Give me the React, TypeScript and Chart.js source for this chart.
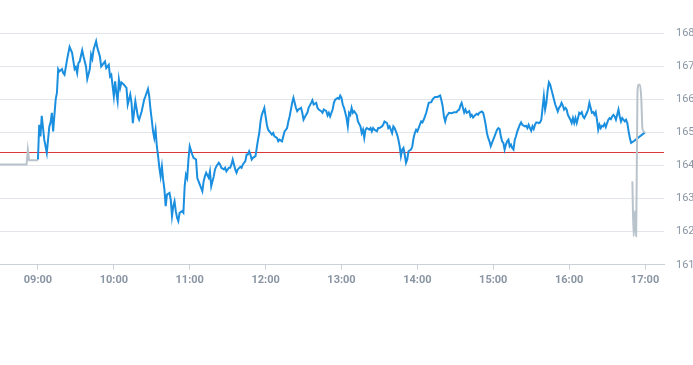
import React, { useEffect, useRef } from "react";
import { Chart, registerables } from "chart.js";

Chart.register(...registerables);

// time axis: minutes after midnight
const axisMin = 510; // 08:30
const axisMax = 1035; // 17:15
const tickLabels = ["09:00", "10:00", "11:00", "12:00", "13:00", "14:00", "15:00", "16:00", "17:00"];
const priceTicks = [161, 162, 163, 164, 165, 166, 167, 168];
const refPrice = 164.42;

const preTimes = [510, 531, 532, 533, 540];
const preValues = [164.03, 164.03, 164.48, 164.16, 164.16];

const sessionTimes = [
  540, 541, 542, 543, 545, 547, 549, 550, 551, 552, 554, 555, 556, 557, 559, 560, 561, 563, 565, 567,
  569, 570, 571, 572, 573, 575, 576, 578, 579, 581, 582, 583, 584, 586, 587, 589, 590, 592, 593, 594,
  596, 597, 598, 600, 601, 602, 603, 604, 605, 606, 608, 610, 611, 613, 614, 615, 617, 619, 620, 622,
  624, 625, 627, 628, 629, 630, 631, 632, 633, 634, 635, 636, 637, 638, 639, 640, 641, 642, 644, 645,
  646, 647, 648, 649, 650, 651, 652, 654, 655, 656, 657, 658, 659, 660, 662, 663, 665, 666, 668, 670,
  671, 672, 673, 675, 676, 677, 679, 680, 681, 683, 684, 685, 687, 688, 689, 691, 692, 693, 694, 695,
  696, 697, 698, 700, 701, 702, 704, 705, 706, 707, 708, 709, 710, 712, 713, 714, 715, 716, 717, 718,
  719, 720, 721, 722, 723, 724, 725, 726, 727, 729, 730, 731, 733, 734, 735, 737, 738, 739, 741, 742,
  743, 744, 745, 746, 748, 749, 750, 752, 753, 754, 756, 757, 758, 760, 761, 762, 764, 765, 766, 768,
  769, 770, 771, 773, 774, 775, 777, 778, 779, 780, 781, 782, 783, 784, 785, 786, 787, 788, 789, 790,
  792, 793, 795, 796, 797, 798, 799, 800, 802, 803, 804, 805, 806, 808, 809, 810, 812, 813, 814, 816,
  817, 818, 820, 821, 822, 824, 825, 826, 827, 828, 829, 830, 831, 832, 833, 834, 835, 836, 837, 838,
  839, 840, 841, 842, 843, 844, 845, 846, 847, 848, 849, 851, 852, 853, 854, 856, 857, 858, 859, 860,
  861, 862, 863, 864, 865, 867, 868, 869, 871, 872, 873, 874, 875, 876, 877, 878, 879, 881, 882, 883,
  884, 886, 887, 888, 889, 891, 892, 893, 894, 895, 896, 897, 898, 899, 900, 901, 902, 903, 904, 905,
  906, 907, 908, 909, 910, 911, 912, 913, 914, 915, 916, 917, 918, 919, 920, 921, 922, 923, 925, 926,
  927, 928, 929, 930, 931, 932, 933, 934, 935, 936, 937, 938, 939, 940, 941, 942, 943, 944, 945, 946,
  947, 948, 949, 950, 951, 952, 953, 954, 955, 956, 957, 958, 959, 961, 962, 963, 964, 965, 966, 967,
  968, 969, 970, 971, 972, 973, 974, 975, 976, 977, 978, 979, 980, 981, 982, 983, 984, 985, 986, 987,
  988, 989, 990, 991, 992, 993, 994, 995, 996, 997, 998, 999, 1000, 1001, 1002, 1003, 1004, 1005, 1006, 1007,
  1008, 1009, 1011, 1020,
];
const sessionValues = [
  164.18, 165.23, 164.88, 165.5, 164.78, 164.38, 165.18, 165.3, 165.59, 165.03, 165.99, 166.19, 166.91, 166.84, 166.91, 166.79, 166.74, 167.19, 167.58, 167.4,
  166.91, 166.97, 166.79, 167.09, 167.14, 167.48, 167.3, 166.99, 166.61, 166.91, 167.35, 167.22, 167.5, 167.75, 167.55, 167.29, 166.99, 167.09, 167.14, 166.94,
  167.04, 166.69, 166.74, 166.09, 166.54, 166.19, 165.94, 166.59, 166.34, 166.51, 166.44, 166.34, 165.84, 166.14, 165.89, 165.28, 165.94, 165.48, 165.38, 165.63,
  165.99, 166.09, 166.31, 166.09, 165.69, 165.38, 165.03, 164.83, 165.08, 164.58, 164.28, 163.93, 163.67, 163.97, 163.57, 163.27, 162.77, 163.12, 163.17, 162.97,
  162.47, 162.77, 162.92, 162.62, 162.42, 162.32, 162.57, 162.62, 162.57, 163.37, 163.72, 163.62, 164.18, 164.58, 164.33, 164.23, 164.18, 163.62, 163.42, 163.22,
  163.52, 163.67, 163.78, 163.63, 163.82, 163.37, 163.67, 163.88, 163.97, 164.08, 164.03, 163.93, 163.88, 163.93, 163.82, 163.93, 163.93, 164.03, 164.18, 164.03,
  163.88, 163.78, 163.88, 163.96, 163.93, 164.03, 164.13, 164.33, 164.33, 164.43, 164.33, 164.18, 164.23, 164.28, 164.53, 164.78, 164.98, 165.33, 165.53, 165.63,
  165.74, 165.48, 165.23, 165.08, 165.03, 164.98, 164.93, 164.98, 164.88, 164.83, 164.73, 164.78, 164.73, 164.88, 165.03, 165.13, 165.33, 165.48, 165.89, 166.04,
  165.89, 165.74, 165.64, 165.69, 165.74, 165.59, 165.38, 165.53, 165.59, 165.74, 165.89, 165.97, 165.84, 165.89, 165.74, 165.69, 165.64, 165.59, 165.69, 165.64,
  165.51, 165.59, 165.48, 165.69, 165.89, 165.99, 166.04, 166.01, 166.11, 166.04, 165.84, 165.74, 165.59, 165.43, 165.18, 165.59, 165.53, 165.74, 165.59, 165.64,
  165.53, 165.33, 165.18, 164.98, 165.08, 164.83, 165.08, 165.13, 165.08, 165.13, 165.03, 165.13, 165.08, 165.03, 165.13, 165.13, 165.18, 165.23, 165.33, 165.28,
  165.13, 165.18, 164.98, 165.18, 165.13, 164.93, 164.78, 164.58, 164.28, 164.48, 164.53, 164.33, 164.08, 164.18, 164.43, 164.46, 164.48, 164.58, 164.83, 164.98,
  165.08, 165.03, 165.13, 165.23, 165.33, 165.3, 165.38, 165.48, 165.59, 165.74, 165.89, 165.91, 165.99, 166.04, 166.07, 166.07, 166.09, 166.11, 165.97, 165.79,
  165.48, 165.33, 165.48, 165.53, 165.59, 165.58, 165.59, 165.61, 165.61, 165.66, 165.68, 165.81, 165.89, 165.74, 165.6, 165.69, 165.59, 165.64, 165.48, 165.53,
  165.45, 165.53, 165.56, 165.53, 165.59, 165.63, 165.59, 165.43, 165.23, 164.98, 164.83, 164.73, 164.58, 164.68, 164.78, 164.88, 164.98, 165.08, 165.13, 165.1,
  164.88, 164.73, 164.68, 164.48, 164.63, 164.73, 164.78, 164.58, 164.63, 164.53, 164.48, 164.78, 164.88, 165.03, 165.13, 165.23, 165.3, 165.23, 165.18, 165.2,
  165.13, 165.23, 165.13, 165.05, 165.18, 165.1, 165.23, 165.3, 165.3, 165.28, 165.3, 165.38, 165.74, 166.09, 165.69, 165.89, 166.27, 166.51, 166.44, 166.29,
  166.14, 165.99, 165.84, 165.74, 165.63, 165.74, 165.79, 165.89, 165.81, 165.69, 165.74, 165.69, 165.53, 165.38, 165.28, 165.43, 165.28, 165.43, 165.28, 165.43,
  165.59, 165.56, 165.61, 165.48, 165.43, 165.51, 165.59, 165.69, 165.89, 165.74, 165.59, 165.61, 165.53, 165.61, 165.38, 165.08, 165.23, 165.13, 165.2, 165.18,
  165.26, 165.16, 165.28, 165.38, 165.43, 165.4, 165.48, 165.53, 165.48, 165.38, 165.53, 165.69, 165.48, 165.33, 165.43, 165.38, 165.33, 165.38, 165.28, 165.03,
  164.83, 164.68, 164.73, 165.0,
];

const postTimes = [1010, 1011, 1012, 1013, 1014, 1015, 1016, 1017, 1018, 1020];
const postValues = [163.52, 161.86, 162.62, 161.86, 166.2, 166.44, 166.44, 166.05, 165.1, 165.0];

const toMinutes = (s: string) => {
  const [h, m] = s.split(":").map(Number);
  return h * 60 + m;
};
const fmt = (v: number) => {
  const h = Math.floor(v / 60);
  const m = Math.round(v % 60);
  return String(h).padStart(2, "0") + ":" + String(m).padStart(2, "0");
};
const pts = (ts: number[], vs: number[]) => ts.map((t, i) => ({ x: t, y: vs[i] }));

const refLinePlugin = {
  id: "refLine",
  beforeDatasetsDraw(chart: any) {
    const { ctx, chartArea, scales } = chart;
    const y = Math.round(scales.y.getPixelForValue(refPrice)) + 0.5;
    ctx.save();
    ctx.strokeStyle = "#d9393a";
    ctx.lineWidth = 1;
    ctx.beginPath();
    ctx.moveTo(chartArea.left, y);
    ctx.lineTo(chartArea.right, y);
    ctx.stroke();
    ctx.restore();
  },
};

export default function App() {
  const ref = useRef<HTMLCanvasElement | null>(null);
  useEffect(() => {
    if (!ref.current) return;
    const chart = new Chart(ref.current, {
      type: "line",
      data: {
        datasets: [
          {
            label: "pre",
            data: pts(preTimes, preValues),
            borderColor: "#b9c3cb",
            backgroundColor: "#b9c3cb",
            borderWidth: 2,
            pointRadius: 0,
            order: 3,
          },
          {
            label: "session",
            data: pts(sessionTimes, sessionValues),
            borderColor: "#1a8fe0",
            backgroundColor: "#1a8fe0",
            borderWidth: 2,
            pointRadius: 0,
            tension: 0,
            order: 2,
          },
          {
            label: "post",
            data: pts(postTimes, postValues),
            borderColor: "#b9c3cb",
            backgroundColor: "#b9c3cb",
            borderWidth: 2,
            pointRadius: 0,
            cubicInterpolationMode: "monotone",
            order: 1,
          },
        ],
      },
      plugins: [refLinePlugin],
      options: {
        animation: false,
        responsive: false,
        devicePixelRatio: 1,
        parsing: false as any,
        layout: { padding: { top: 33, bottom: 74, left: 0, right: 0 } },
        plugins: { legend: { display: false }, tooltip: { enabled: false } },
        scales: {
          x: {
            type: "linear",
            min: axisMin,
            max: axisMax,
            afterBuildTicks: (axis: any) => {
              axis.ticks = tickLabels.map((l) => ({ value: toMinutes(l) }));
            },
            grid: {
              drawOnChartArea: false,
              drawTicks: true,
              tickLength: 5,
              color: "#ccd2da",
            },
            border: { display: true, color: "#ccd2da" },
            ticks: {
              autoSkip: false,
              maxRotation: 0,
              padding: 4,
              color: "#8a95a3",
              font: { family: "Roboto", size: 11, weight: "bold" },
              callback: (v: any) => fmt(Number(v)),
            },
          },
          y: {
            position: "right",
            min: priceTicks[0],
            max: priceTicks[priceTicks.length - 1],
            afterBuildTicks: (axis: any) => {
              axis.ticks = priceTicks.map((v) => ({ value: v }));
            },
            afterFit: (axis: any) => {
              axis.width = 29;
            },
            grid: { color: "#e2e5ea", drawTicks: false },
            border: { display: false },
            ticks: {
              padding: 12,
              color: "#8a95a3",
              font: { family: "Roboto", size: 11 },
            },
          },
        },
      },
    } as any);
    return () => chart.destroy();
  }, []);
  return (
    <div style={{ position: "absolute", left: 0, top: 0, width: 693, height: 365, background: "#fff" }}>
      <canvas ref={ref} width={693} height={365} style={{ display: "block" }} />
    </div>
  );
}
